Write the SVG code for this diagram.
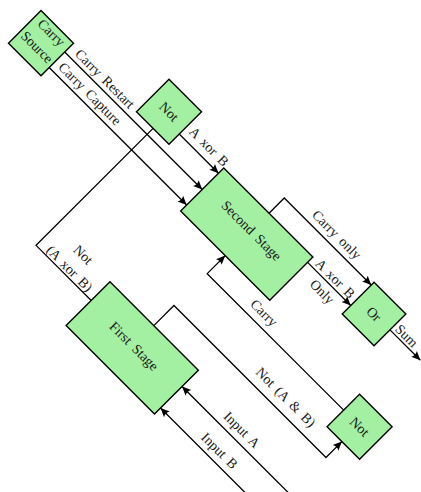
<svg xmlns="http://www.w3.org/2000/svg" width="421" height="492" viewBox="0 0 421 492">
<defs>
<style>
.node rect{fill:#a3f0a3;stroke:#000;stroke-width:1.4}
.edge{fill:none;stroke:#000;stroke-width:1.3}
text{font-family:"Liberation Serif","Times New Roman",serif;font-size:14px;word-spacing:2.5px;fill:#1a1a1a;text-anchor:middle}
</style>
<marker id="arr" viewBox="-10 -5 10 10" refX="0" refY="0" markerWidth="10" markerHeight="10" markerUnits="userSpaceOnUse" orient="auto">
<path d="M0,0 L-9,-4 Q-6.5,0 -9,4 Z" fill="#000"/>
</marker>
</defs>
<rect width="421" height="492" fill="#fff"/>
<g transform="rotate(45)">
<g id="connectors">
<path class="edge" d="M82.5,-9 H277" marker-end="url(#arr)"/>
<path class="edge" d="M82.5,13 H277" marker-end="url(#arr)"/>
<path class="edge" d="M221.5,-32 H277" marker-end="url(#arr)"/>
<path class="edge" d="M277,148 H199 V-17.5"/>
<path class="edge" d="M341,-39.5 V-61 H464" marker-end="url(#arr)"/>
<path class="edge" d="M403,-32 H464" marker-end="url(#arr)"/>
<path class="edge" d="M509,-42.5 H552" marker-end="url(#arr)"/>
<path class="edge" d="M533,47 H340 V21.5" marker-end="url(#arr)"/>
<path class="edge" d="M339,121.5 V93 H554 V70.5" marker-end="url(#arr)"/>
<path class="edge" d="M620,144.5 H402" marker-end="url(#arr)"/>
<path class="edge" d="M620,175 H402" marker-end="url(#arr)"/>
<text x="130" y="-13.8">Carry Restart</text>
<text x="130" y="7.4">Carry Capture</text>
<text x="251.5" y="-39.5">A xor B</text>
<text x="239" y="126">Not</text>
<text x="239" y="145.4">(A xor B)</text>
<text x="404" y="-67.5">Carry only</text>
<text x="434" y="-35.4">A xor B</text>
<text x="434" y="-16.9">Only</text>
<text x="525" y="-45.4">Sum</text>
<text x="408" y="39.2">Carry</text>
<text x="483" y="83.5">Not (A &amp; B)</text>
<text x="475" y="137.5">Input A</text>
<text x="474" y="168.2">Input B</text>
</g>
<g id="carry-source" class="node">
<rect x="36.5" y="-21.5" width="46" height="46"/>
<text x="59.5" y="-8.6">Carry</text>
<text x="59.5" y="11.8">Source</text>
</g>
<g id="not-top" class="node">
<rect x="175.5" y="-63.5" width="46" height="46"/>
<text x="198.5" y="-35.8">Not</text>
</g>
<g id="second-stage" class="node">
<rect x="277" y="-39.5" width="126" height="61"/>
<text x="341" y="-10">Second Stage</text>
</g>
<g id="first-stage" class="node">
<rect x="277" y="121.5" width="125" height="62"/>
<text x="339.5" y="154.7">First Stage</text>
</g>
<g id="or" class="node">
<rect x="464" y="-65" width="45" height="45"/>
<text x="486.5" y="-37.7">Or</text>
</g>
<g id="not-bottom" class="node">
<rect x="533" y="24.5" width="46" height="46"/>
<text x="556" y="52.2">Not</text>
</g>
</g>
</svg>
